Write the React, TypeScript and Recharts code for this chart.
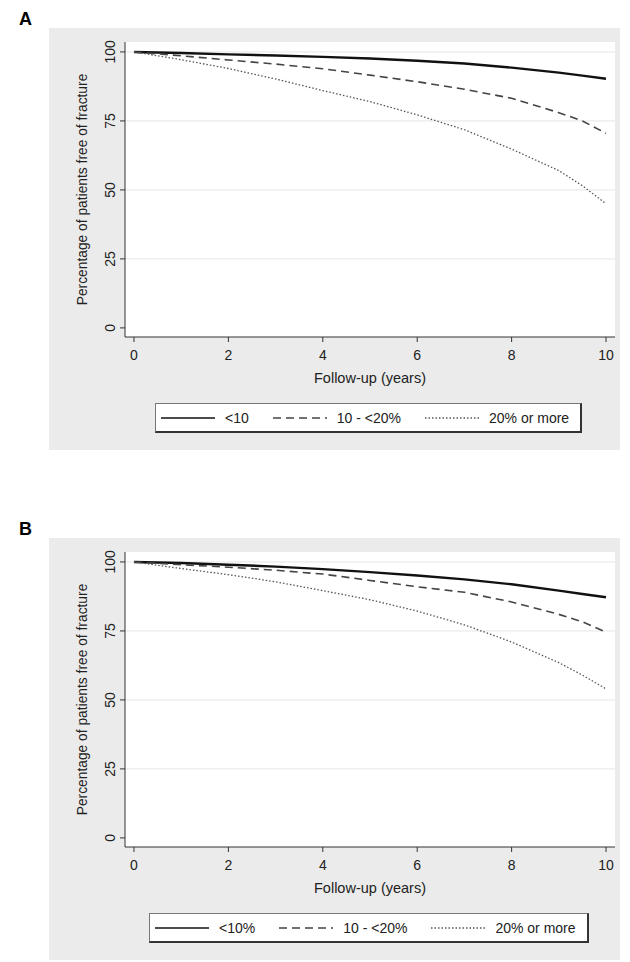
import { CartesianGrid, Label, Line, LineChart, ReferenceLine, XAxis, YAxis } from "recharts";

// follow-up time (years) at which the curves were read
const YEARS = [0, 1, 2, 3, 4, 5, 6, 7, 8, 9, 9.5, 10];

// panel A: % free of fracture
const lowA = [100, 99.6, 99.1, 98.7, 98.2, 97.6, 96.8, 95.8, 94.3, 92.5, 91.4, 90.3];
const midA = [100, 98.6, 97.1, 95.6, 93.9, 91.6, 89.2, 86.5, 83.2, 78.0, 75.0, 70.5];
const highA = [100, 97.2, 94.0, 90.2, 86.0, 82.0, 77.2, 71.8, 64.8, 57.0, 51.5, 45.0];

// panel B
const lowB = [100, 99.6, 99.0, 98.3, 97.4, 96.3, 95.1, 93.7, 91.9, 89.6, 88.4, 87.2];
const midB = [100, 99.0, 98.1, 97.0, 95.6, 93.3, 91.0, 89.0, 85.5, 81.0, 78.3, 74.5];
const highB = [100, 97.6, 95.4, 92.8, 89.6, 86.3, 82.2, 77.2, 71.0, 63.5, 59.0, 54.0];

const X_TICKS = [0, 2, 4, 6, 8, 10];
const Y_TICKS = [0, 25, 50, 75, 100];
const GRID_Y = [25, 50, 75, 100];

const legendA = ["<10", "10 - <20%", "20% or more"];
const legendB = ["<10%", "10 - <20%", "20% or more"];

const FONT = '"Liberation Sans", Arial, sans-serif';
const PANEL_W = 571;
const PANEL_H = 422;

const STYLES = [
  { key: "low", stroke: "#111", width: 2.4, dash: undefined },
  { key: "mid", stroke: "#444", width: 1.6, dash: "8 5" },
  { key: "high", stroke: "#555", width: 1.3, dash: "1.5 2" },
];

function build(low: number[], mid: number[], high: number[]) {
  return YEARS.map((t, i) => ({ t, low: low[i], mid: mid[i], high: high[i] }));
}

function YTick(props: any) {
  const { x, y, payload } = props;
  return (
    <text
      x={x}
      y={y}
      dy="0.35em"
      textAnchor="middle"
      transform={`rotate(-90 ${x} ${y})`}
      fontSize={14}
      fontFamily={FONT}
      fill="#222"
    >
      {payload.value}
    </text>
  );
}

function Legend({ labels, left, top }: { labels: string[]; left: number; top: number }) {
  return (
    <div
      style={{
        position: "absolute",
        left,
        top,
        height: 27,
        display: "flex",
        alignItems: "center",
        gap: 24,
        padding: "0 11px 0 5px",
        background: "#fff",
        border: "1px solid #777",
        borderRightColor: "#333",
        borderBottomColor: "#333",
        borderRightWidth: 2,
        borderBottomWidth: 2,
        fontFamily: FONT,
        fontSize: 14,
        color: "#222",
      }}
    >
      {labels.map((lab, i) => (
        <div key={lab} style={{ display: "flex", alignItems: "center", gap: 10 }}>
          <svg width={54} height={6}>
            <line
              x1={0}
              y1={3}
              x2={54}
              y2={3}
              stroke={STYLES[i].stroke}
              strokeWidth={i === 0 ? 1.6 : 1.3}
              strokeDasharray={STYLES[i].dash}
            />
          </svg>
          <span>{lab}</span>
        </div>
      ))}
    </div>
  );
}

function Panel({
  letter,
  top,
  data,
  labels,
  legendLeft,
}: {
  letter: string;
  top: number;
  data: ReturnType<typeof build>;
  labels: string[];
  legendLeft: number;
}) {
  return (
    <>
      <div
        style={{
          position: "absolute",
          left: 19,
          top: top - 19,
          fontFamily: FONT,
          fontWeight: "bold",
          fontSize: 18,
        }}
      >
        {letter}
      </div>
      <div
        style={{
          position: "absolute",
          left: 49,
          top,
          width: PANEL_W,
          height: PANEL_H,
          background: "#ebebeb",
        }}
      >
        <LineChart
          width={PANEL_W}
          height={PANEL_H}
          data={data}
          margin={{ top: 14, right: 5, left: 21, bottom: 83 }}
        >
          <CartesianGrid fill="#fff" horizontal={false} vertical={false} />
          {GRID_Y.map((v) => (
            <ReferenceLine key={v} y={v} stroke="#e6e6e6" strokeWidth={1} />
          ))}
          <XAxis
            type="number"
            dataKey="t"
            domain={[-0.19, 10.19]}
            ticks={X_TICKS}
            allowDataOverflow
            height={30}
            tickSize={5}
            tickMargin={8}
            stroke="#333"
            tick={{ fontSize: 14, fontFamily: FONT, fill: "#222" }}
          >
            <Label
              content={(p: any) => {
                const vb = p.viewBox;
                return (
                  <text
                    x={vb.x + vb.width / 2}
                    y={vb.y + 41}
                    dy="0.35em"
                    textAnchor="middle"
                    fontSize={14.5}
                    fontFamily={FONT}
                    fill="#222"
                  >
                    Follow-up (years)
                  </text>
                );
              }}
            />
          </XAxis>
          <YAxis
            type="number"
            domain={[-3.3, 103.6]}
            ticks={Y_TICKS}
            allowDataOverflow
            width={55}
            tickSize={5}
            tickMargin={10}
            stroke="#333"
            tick={<YTick />}
          >
            <Label
              content={(p: any) => {
                const vb = p.viewBox;
                const cx = vb.x + 12;
                const cy = vb.y + vb.height / 2;
                return (
                  <text
                    x={cx}
                    y={cy}
                    dy="0.35em"
                    textAnchor="middle"
                    transform={`rotate(-90 ${cx} ${cy})`}
                    fontSize={13.8}
                    fontFamily={FONT}
                    fill="#222"
                  >
                    Percentage of patients free of fracture
                  </text>
                );
              }}
            />
          </YAxis>
          {STYLES.map((s) => (
            <Line
              key={s.key}
              type="linear"
              dataKey={s.key}
              stroke={s.stroke}
              strokeWidth={s.width}
              strokeDasharray={s.dash}
              dot={false}
              isAnimationActive={false}
            />
          ))}
        </LineChart>
        <Legend labels={labels} left={legendLeft} top={375} />
      </div>
    </>
  );
}

export default function App() {
  return (
    <div style={{ position: "absolute", left: 0, top: 0, width: 630, height: 962, background: "#fff" }}>
      <Panel letter="A" top={28} data={build(lowA, midA, highA)} labels={legendA} legendLeft={106} />
      <Panel letter="B" top={538} data={build(lowB, midB, highB)} labels={legendB} legendLeft={100} />
    </div>
  );
}
